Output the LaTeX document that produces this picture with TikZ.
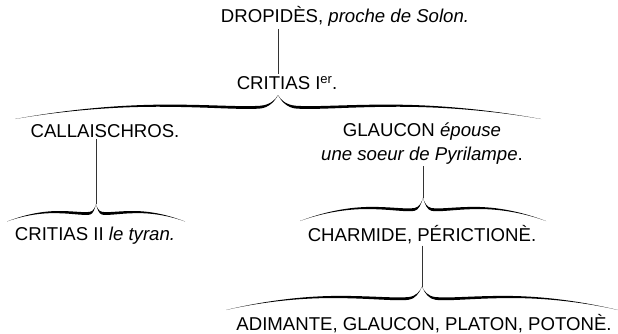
\documentclass[tikz,border=0pt]{standalone}
\usepackage{fontspec}
\setmainfont{Liberation Sans}

\begin{document}
\begin{tikzpicture}[x=1pt,y=-1pt,
  nom/.style={anchor=base, inner sep=2pt, font=\fontsize{18.6}{24}\selectfont},
  trait/.style={line width=0.7pt, black!80}]
\useasboundingbox (0,0) rectangle (618,333);

% les noms
\node[nom] (drop) at (345,22.7) {DROPIDÈS, \textit{proche de Solon.}};
\node[nom] (crit1) at (287,89) {CRITIAS I\raisebox{6pt}{\fontsize{13}{13}\selectfont er}.};
\node[nom] (call) at (105,137) {CALLAISCHROS.};
\node[nom, align=center] (glau) at (422,160) {GLAUCON \textit{épouse}\\\textit{une soeur de Pyrilampe}.};
\node[nom] (crit2) at (95,240) {CRITIAS II \textit{le tyran.}};
\node[nom] (char) at (422,241) {CHARMIDE, PÉRICTIONÈ.};
\node[nom] (adim) at (424,330) {ADIMANTE, GLAUCON, PLATON, POTONÈ.};

% sommets des accolades
\coordinate (b0) at (278,95);
\coordinate (b1) at (96,204);
\coordinate (b2) at (423,197.5);
\coordinate (b3) at (422,286.5);

% traits verticaux
\draw[trait] (drop.south -| b0) -- (crit1.north -| b0);
\draw[trait] (call.south -| b1) -- (b1);
\draw[trait] (glau.south -| b2) -- (b2);
\draw[trait] (char.south -| b3) -- (b3);

% accolades (sommet/demi-largeur/hauteur)
\foreach \b/\w/\h in {b0/263/24, b1/89/17.5, b2/123/23.5, b3/196/23.5} {
  \foreach \s in {1,-1} {
    \fill[shift={(\b)}, xscale=\s]
      (-\w,\h) .. controls ({-0.8*\w},{0.6*\h}) and ({-0.6*\w},{0.4*\h}) .. ({-0.42*\w},{0.4*\h})
      .. controls ({-0.25*\w},{0.4*\h}) and ({-0.15*\w},{0.5*\h}) .. ({-0.07*\w},{0.45*\h})
      .. controls ({-0.03*\w},{0.42*\h}) and ({-0.01*\w},{0.2*\h}) .. (0,0)
      .. controls ({-0.012*\w},{0.2*\h+1.5}) and ({-0.035*\w},{0.42*\h+2.8}) .. ({-0.07*\w},{0.45*\h+2.8})
      .. controls ({-0.15*\w},{0.5*\h+2.8}) and ({-0.25*\w},{0.4*\h+2.6}) .. ({-0.42*\w},{0.4*\h+2.2})
      .. controls ({-0.6*\w},{0.4*\h+1.6}) and ({-0.8*\w},{0.6*\h+0.6}) .. (-\w,\h) -- cycle;
  }
}
\end{tikzpicture}
\end{document}
